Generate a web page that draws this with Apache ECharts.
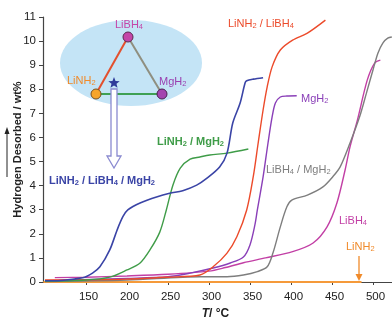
<!DOCTYPE html>
<html><head><meta charset="utf-8">
<script src="https://cdn.jsdelivr.net/npm/echarts@6/dist/echarts.min.js"></script>
<style>html,body{margin:0;padding:0;background:#fff}#c{width:392px;height:320px}</style>
</head><body><div id="c"></div>
<script>
// Temperatures (°C) and hydrogen desorbed (wt%)
const ternaryT = [100,106,146,158,167,179,188,195,201,216,237,252,268,285,298,313,322,329,338,344,346,354,366];
const ternaryW = [0.05,0.05,0.18,0.37,0.63,1.33,2.16,2.71,2.99,3.28,3.54,3.68,3.79,4.02,4.32,4.77,5.35,6.6,7.43,8.26,8.35,8.42,8.48];
const amideMgT = [100,150,179,200,216,228,240,248,256,265,277,289,301,322,348];
const amideMgW = [0.03,0.08,0.2,0.5,0.79,1.33,2.07,2.99,4.02,4.73,5.1,5.19,5.27,5.35,5.52];
const amideBhT = [100,200,250,289,305,322,334,346,354,360,366,371,377,387,402,420,442];
const amideBhW = [0.08,0.12,0.2,0.29,0.63,1.2,1.88,2.99,4.37,5.77,7.14,8.1,8.93,9.63,10.04,10.33,10.87];
const mgT = [100,200,250,277,305,326,342,350,356,359,366,372,377,381,387,395,407];
const mgW = [0.05,0.15,0.22,0.37,0.58,0.79,1.04,1.54,2.37,2.99,4.36,5.77,6.85,7.43,7.68,7.72,7.73];
const bhMgT = [100,200,289,322,342,359,371,378,387,395,401,420,439,451,460,472,484,492,500,506,512,518,523];
const bhMgW = [0.02,0.08,0.22,0.22,0.29,0.43,0.63,1.2,2.29,3.12,3.4,3.61,3.95,4.37,4.78,5.77,6.89,7.84,8.8,9.5,9.92,10.12,10.17];
const bhT = [112,150,200,250,300,320,342,369,402,427,444,456,466,472,481,493,502,509];
const bhW = [0.18,0.2,0.25,0.32,0.45,0.6,0.8,1.0,1.26,1.62,2.29,3.28,4.65,5.61,6.72,8.38,9.09,9.21];
const amideT = [98,486];
const amideW = [0,0];
const xTicks = [150,200,250,300,350,400,450,500];

const pairs = (t, w) => t.map((v, i) => [v, w[i]]);
const chart = echarts.init(document.getElementById('c'));
const FONT = 'Liberation Sans, Arial, sans-serif';

function lbl(parts, x, y, color, weight) {
  return {
    type: 'text', x: x, y: y, z: 50,
    style: {
      text: parts, fill: color, font: (weight || 'normal') + ' 11px ' + FONT,
      textVerticalAlign: 'middle',
      rich: {
        n: {fontSize: 11, fontFamily: FONT, fontWeight: weight || 'normal', fill: color, lineHeight: 15},
        s: {fontSize: 7.5, fontFamily: FONT, fontWeight: weight || 'normal', fill: color, lineHeight: 8, verticalAlign: 'bottom'}
      }
    }
  };
}

// star polygon points
function starPts(cx, cy, R, r) {
  const p = [];
  for (let i = 0; i < 10; i++) {
    const a = -Math.PI / 2 + i * Math.PI / 5;
    const rr = i % 2 === 0 ? R : r;
    p.push([cx + rr * Math.cos(a), cy + rr * Math.sin(a)]);
  }
  return p;
}

const series = [
  {name: 'LiNH2', data: pairs(amideT, amideW), color: '#f59a3a', w: 2},
  {name: 'LiBH4', data: pairs(bhT, bhW), color: '#c23fa5', w: 1.4},
  {name: 'LiBH4/MgH2', data: pairs(bhMgT, bhMgW), color: '#7e7e7e', w: 1.4},
  {name: 'MgH2', data: pairs(mgT, mgW), color: '#8a3fb8', w: 1.4},
  {name: 'LiNH2/LiBH4', data: pairs(amideBhT, amideBhW), color: '#ec4a2a', w: 1.4},
  {name: 'LiNH2/MgH2', data: pairs(amideMgT, amideMgW), color: '#3f9c48', w: 1.4},
  {name: 'LiNH2/LiBH4/MgH2', data: pairs(ternaryT, ternaryW), color: '#3a44a6', w: 1.6}
].map(s => ({
  type: 'line', name: s.name, data: s.data, showSymbol: false, smooth: 0.3,
  clip: false, lineStyle: {color: s.color, width: s.w}, itemStyle: {color: s.color}, z: 3
}));

chart.setOption({
  animation: false,
  backgroundColor: '#fff',
  grid: {left: 43, right: 0, top: 17, bottom: 38, containLabel: false, outerBoundsMode: 'none'},
  xAxis: {
    type: 'value', min: 97.6, max: 523.2,
    axisLine: {lineStyle: {color: '#444', width: 1.2}},
    axisTick: {length: 3, customValues: xTicks, lineStyle: {color: '#444'}},
    axisLabel: {margin: 9, color: '#222', fontSize: 11.5, fontFamily: FONT, customValues: xTicks,
      padding: [0, 0, 0, 5], formatter: v => String(v)},
    splitLine: {show: false},
    name: '{i|T}{b|/ °C}', nameLocation: 'middle', nameGap: 24,
    nameTextStyle: {padding: [0, 4, 0, 0], rich: {
      i: {fontStyle: 'italic', fontWeight: 'bold', fontSize: 12, fontFamily: FONT, color: '#222'},
      b: {fontWeight: 'bold', fontSize: 12, fontFamily: FONT, color: '#222'}
    }}
  },
  yAxis: {
    type: 'value', min: 0, max: 11, interval: 1,
    axisLine: {show: true, lineStyle: {color: '#444', width: 1.2}},
    axisTick: {show: true, length: 4, lineStyle: {color: '#444'}},
    axisLabel: {margin: 7, color: '#222', fontSize: 11.5, fontFamily: FONT},
    splitLine: {show: false},
    name: 'Hydrogen Desorbed / wt%', nameLocation: 'middle', nameGap: 20, nameRotate: 90,
    nameMoveOverlap: false,
    nameTextStyle: {fontWeight: 'bold', fontSize: 11, fontFamily: FONT, color: '#222'}
  },
  series: series,
  graphic: [
    {type: 'ellipse', shape: {cx: 131, cy: 63, rx: 71, ry: 43}, style: {fill: '#c4e4f6'}, z: 10},
    {type: 'line', shape: {x1: 96, y1: 94, x2: 128, y2: 37}, style: {stroke: '#e3502e', lineWidth: 2}, z: 11},
    {type: 'line', shape: {x1: 128, y1: 37, x2: 162, y2: 94}, style: {stroke: '#8f8f80', lineWidth: 2}, z: 11},
    {type: 'line', shape: {x1: 96, y1: 94, x2: 162, y2: 94}, style: {stroke: '#3fa054', lineWidth: 2}, z: 11},
    {type: 'circle', shape: {cx: 128, cy: 37, r: 5}, style: {fill: '#c445a8', stroke: '#5a2a50', lineWidth: 1}, z: 12},
    {type: 'circle', shape: {cx: 96, cy: 94, r: 5}, style: {fill: '#f7a52a', stroke: '#7a5020', lineWidth: 1}, z: 12},
    {type: 'circle', shape: {cx: 162, cy: 94, r: 5}, style: {fill: '#a444b0', stroke: '#4a2050', lineWidth: 1}, z: 12},
    {type: 'polygon', shape: {points: [[111,89],[117,89],[117,156],[121,156],[114,168],[107,156],[111,156]]},
      style: {fill: '#ffffff', stroke: '#8a8ad0', lineWidth: 1.3}, z: 12},
    {type: 'polygon', shape: {points: starPts(114, 83, 6, 2.6)}, style: {fill: '#2e3a9a'}, z: 13},
    lbl('LiBH{s|4}', 115, 25, '#c445a8'),
    lbl('LiNH{s|2}', 67, 81, '#f08a2a'),
    lbl('MgH{s|2}', 159, 82, '#9a40b0'),
    lbl('LiNH{s|2} / LiBH{s|4} / MgH{s|2}', 49, 181, '#3a44a6', 'bold'),
    lbl('LiNH{s|2} / MgH{s|2}', 157, 142, '#3f9c48', 'bold'),
    lbl('LiNH{s|2} / LiBH{s|4}', 228, 24, '#ec4a2a'),
    lbl('MgH{s|2}', 301, 99, '#8a3fb8'),
    lbl('LiBH{s|4} / MgH{s|2}', 266, 170, '#7e7e7e'),
    lbl('LiBH{s|4}', 339, 221, '#c23fa5'),
    lbl('LiNH{s|2}', 346, 247, '#f08a2a'),
    {type: 'line', shape: {x1: 359, y1: 256, x2: 359, y2: 277}, style: {stroke: '#f08a2a', lineWidth: 1.3}, z: 20},
    {type: 'polygon', shape: {points: [[355.5,274],[362.5,274],[359,281]]}, style: {fill: '#f08a2a'}, z: 20},
    {type: 'line', shape: {x1: 7, y1: 177, x2: 7, y2: 132}, style: {stroke: '#222', lineWidth: 1}, z: 20},
    {type: 'polygon', shape: {points: [[4.5,134],[9.5,134],[7,127]]}, style: {fill: '#222'}, z: 20}
  ]
});
</script></body></html>
